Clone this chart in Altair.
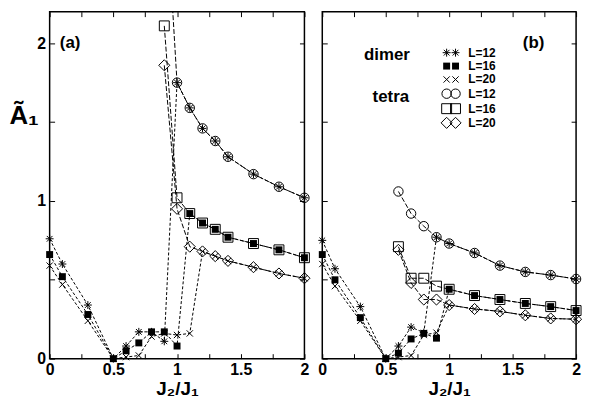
import altair as alt
import pandas as pd

# ---------------- data ----------------
# panel (a)
X_DIMER_A = [0, 0.1, 0.3, 0.5, 0.6, 0.7, 0.8, 0.9, 1.0, 1.1, 1.2, 1.3, 1.4, 1.6, 1.8, 2.0]
DIMER12_A = [0.76, 0.60, 0.34, 0.0, 0.08, 0.17, 0.17, 0.11, 1.75, 1.59, 1.46, 1.38, 1.28, 1.17, 1.09, 1.02]
DIMER16_A = [0.66, 0.52, 0.28, 0.0, 0.05, 0.10, 0.17, 0.17, 0.08, 0.92, 0.86, 0.82, 0.77, 0.73, 0.69, 0.64]
DIMER20_A = [0.59, 0.47, 0.24, 0.0, 0.01, 0.02, 0.14, 0.16, 0.15, 0.16, 0.68, 0.65, 0.62, 0.58, 0.54, 0.51]

X_TETRA_A = [0.9, 1.0, 1.1, 1.2, 1.3, 1.4, 1.6, 1.8, 2.0]
TETRA12_A = [3.1, 1.75, 1.59, 1.46, 1.38, 1.28, 1.17, 1.09, 1.02]
TETRA16_A = [2.11, 1.02, 0.92, 0.86, 0.82, 0.77, 0.73, 0.69, 0.64]
TETRA20_A = [1.86, 0.95, 0.71, 0.68, 0.65, 0.62, 0.58, 0.54, 0.51]

# panel (b)
X_DIMER_B = [0, 0.1, 0.3, 0.5, 0.6, 0.7, 0.8, 0.9, 1.0, 1.2, 1.4, 1.6, 1.8, 2.0]
DIMER12_B = [0.75, 0.57, 0.33, 0.0, 0.08, 0.20, 0.165, 0.77, 0.73, 0.67, 0.59, 0.55, 0.53, 0.505]
DIMER16_B = [0.66, 0.50, 0.26, 0.0, 0.035, 0.125, 0.16, 0.13, 0.44, 0.40, 0.375, 0.35, 0.33, 0.305]
DIMER20_B = [0.60, 0.46, 0.24, 0.0, 0.01, 0.02, 0.15, 0.165, 0.34, 0.315, 0.30, 0.275, 0.255, 0.25]

X_TETRA_B = [0.6, 0.7, 0.8, 0.9, 1.0, 1.2, 1.4, 1.6, 1.8, 2.0]
TETRA12_B = [1.06, 0.92, 0.84, 0.77, 0.73, 0.67, 0.59, 0.55, 0.53, 0.505]
TETRA16_B = [0.71, 0.51, 0.51, 0.46, 0.44, 0.40, 0.375, 0.35, 0.33, 0.305]
TETRA20_B = [0.69, 0.48, 0.375, 0.375, 0.34, 0.315, 0.30, 0.275, 0.255, 0.25]

SERIES = ["t12", "t16", "t20", "d12", "d16", "d20"]
LEGEND_SERIES = ["d12", "d16", "d20", "t12", "t16", "t20"]
LEGEND_LABELS = ["L=12", "L=16", "L=20", "L=12", "L=16", "L=20"]
GROUP_LABELS = ["dimer", "tetra"]
PANEL_LABELS = ["(a)", "(b)"]

X_TICKS = [0, 0.25, 0.5, 0.75, 1.0, 1.25, 1.5, 1.75, 2.0]
X_LABELS = [0, 0.5, 1, 1.5, 2]
Y_TICKS = [0, 0.5, 1, 1.5, 2]
Y_LABELS = [0, 1, 2]

# ---------------- tables ----------------
rows = []
def add(panel, series, xs, ys):
    for xv, yv in zip(xs, ys):
        rows.append({"panel": panel, "series": series, "kind": series[0], "x": xv, "y": yv})

add("a", "d12", X_DIMER_A, DIMER12_A)
add("a", "d16", X_DIMER_A, DIMER16_A)
add("a", "d20", X_DIMER_A, DIMER20_A)
add("a", "t12", X_TETRA_A, TETRA12_A)
add("a", "t16", X_TETRA_A, TETRA16_A)
add("a", "t20", X_TETRA_A, TETRA20_A)
add("b", "d12", X_DIMER_B, DIMER12_B)
add("b", "d16", X_DIMER_B, DIMER16_B)
add("b", "d20", X_DIMER_B, DIMER20_B)
add("b", "t12", X_TETRA_B, TETRA12_B)
add("b", "t16", X_TETRA_B, TETRA16_B)
add("b", "t20", X_TETRA_B, TETRA20_B)
df = pd.DataFrame(rows)

# legend placement (data coordinates of panel b)
LEG_X1, LEG_X2, LEG_XT = 0.98, 1.05, 1.15
LEG_Y = [1.94, 1.855, 1.77, 1.68, 1.585, 1.495]
leg_pts = pd.DataFrame(
    [{"series": s, "x": xv, "y": yv} for s, yv in zip(LEGEND_SERIES, LEG_Y) for xv in (LEG_X1, LEG_X2)]
)
leg_txt = pd.DataFrame({"label": LEGEND_LABELS, "x": [LEG_XT] * 6, "y": LEG_Y})
grp_txt = pd.DataFrame({"label": GROUP_LABELS, "x": [0.51, 0.54], "y": [1.925, 1.66]})

# ---------------- style ----------------
FONT = "Liberation Sans"
W_A, W_B, H = 257, 256, 350
YMAX = 2.2
XS = alt.Scale(domain=[0, 2], nice=False, zero=False, padding=0)
YS = alt.Scale(domain=[0, YMAX], nice=False, zero=False, padding=0)

AST = "M-1,0L1,0M0,-1L0,1M-0.72,-0.72L0.72,0.72M-0.72,0.72L0.72,-0.72"
XSH = "M-1,-1L1,1M-1,1L1,-1"
MARKERS = {
    "t12": dict(shape="circle", size=90, filled=False),
    "t16": dict(shape="square", size=100, filled=False),
    "t20": dict(shape="diamond", size=125, filled=False),
    "d12": dict(shape=AST, size=64, filled=False),
    "d16": dict(shape="square", size=49, filled=True),
    "d20": dict(shape=XSH, size=40, filled=False),
}


def panel(p, first, W):
    d = df[df.panel == p]
    x_enc = alt.X("x:Q", scale=XS,
                  axis=alt.Axis(values=X_LABELS, format="~g", ticks=False, domain=False, grid=False,
                                labelFlush=False, title="J₂/J₁", labelPadding=3, titlePadding=2))
    if first:
        y_axis = alt.Axis(values=Y_LABELS, format="~g", ticks=False, domain=False, grid=False,
                          labelFlush=False,
                          title="Ã₁", titleAngle=0, titleAlign="left", titleBaseline="alphabetic",
                          titleX=-41, titleY=113, titleFontSize=26, labelPadding=4)
    else:
        y_axis = alt.Axis(values=Y_LABELS, ticks=False, domain=False, grid=False, labels=False, title="")
    y_enc = alt.Y("y:Q", scale=YS, axis=y_axis)

    base = alt.Chart(d)
    layers = []
    for kind, dash in (("t", [5, 2]), ("d", [3, 2])):
        layers.append(
            base.transform_filter(alt.datum.kind == kind)
            .mark_line(color="black", strokeWidth=1, strokeDash=dash, clip=True)
            .encode(x=x_enc, y=y_enc, detail="series:N", order="x:Q")
        )
    for s in SERIES:
        m = MARKERS[s]
        layers.append(
            base.transform_filter((alt.datum.series == s) & (alt.datum.y <= YMAX))
            .mark_point(color="black", strokeWidth=1, opacity=1, **m)
            .encode(x=x_enc, y=y_enc)
        )
    lab = pd.DataFrame({"label": [PANEL_LABELS[0 if first else 1]],
                        "x": [0.08 if first else 1.58], "y": [2.0]})
    layers.append(
        alt.Chart(lab).mark_text(font=FONT, fontWeight="bold", fontSize=17, align="left",
                                 baseline="middle", color="black")
        .encode(x=x_enc, y=y_enc, text="label:N")
    )
    if not first:
        lp = alt.Chart(leg_pts)
        for s in SERIES:
            m = MARKERS[s]
            layers.append(
                lp.transform_filter(alt.datum.series == s)
                .mark_point(color="black", strokeWidth=1, opacity=1, **m)
                .encode(x=x_enc, y=y_enc)
            )
        layers.append(
            alt.Chart(leg_txt).mark_text(font=FONT, fontWeight="bold", fontSize=12, align="left",
                                         baseline="middle", color="black")
            .encode(x=x_enc, y=y_enc, text="label:N")
        )
        layers.append(
            alt.Chart(grp_txt).mark_text(font=FONT, fontWeight="bold", fontSize=17, align="center",
                                         baseline="middle", color="black")
            .encode(x=x_enc, y=y_enc, text="label:N")
        )
    data_layer = alt.layer(*layers)

    dummy = alt.Chart(d).transform_filter(alt.datum.y <= YMAX).mark_point(opacity=0)
    ticks_a = dummy.encode(
        x=alt.X("x:Q", scale=XS, axis=alt.Axis(orient="top", offset=-H, values=X_TICKS, labels=False,
                                                domain=False, grid=False, tickSize=5, title="")),
        y=alt.Y("y:Q", scale=YS, axis=alt.Axis(orient="right", offset=-W, values=Y_TICKS, labels=False,
                                                domain=False, grid=False, tickSize=5, title="")),
    )
    ticks_b = dummy.encode(
        x=alt.X("x:Q", scale=XS, axis=alt.Axis(orient="bottom", offset=-H, values=X_TICKS, labels=False,
                                                domain=False, grid=False, tickSize=5, title="")),
        y=alt.Y("y:Q", scale=YS, axis=alt.Axis(orient="left", offset=-W, values=Y_TICKS, labels=False,
                                                domain=False, grid=False, tickSize=5, title="")),
    )
    return (
        alt.layer(data_layer, ticks_a, ticks_b)
        .resolve_axis(x="independent", y="independent")
        .properties(width=W, height=H)
    )


chart = (
    alt.hconcat(panel("a", True, W_A), panel("b", False, W_B), spacing=18, bounds="flush")
    .properties(padding={"left": 0, "top": 0, "right": 0, "bottom": 0})
    .configure_view(stroke="black", strokeWidth=1.5)
    .configure_axis(labelFont=FONT, labelFontSize=16, labelFontWeight="bold", labelColor="black",
                    titleFont=FONT, titleFontSize=19, titleFontWeight="bold", titleColor="black",
                    tickColor="black", tickWidth=1)
)

chart.save("out.html", embed_options={"renderer": "svg", "actions": False})
